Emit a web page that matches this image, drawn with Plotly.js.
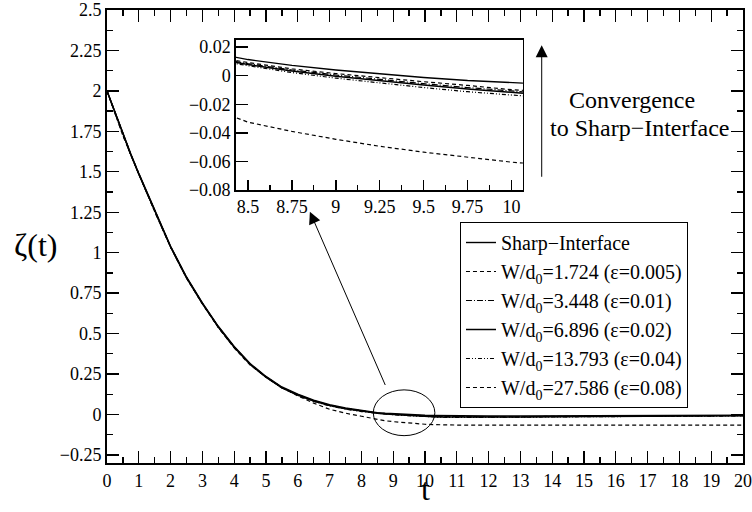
<!DOCTYPE html>
<html><head><meta charset="utf-8">
<script src="https://cdn.plot.ly/plotly-3.0.1.min.js"></script>
<style>html,body{margin:0;padding:0;background:#fff}</style>
</head><body>
<div id="chart" style="width:752px;height:512px"></div>
<script>
// time grid
const t = [0,0.25,0.5,0.75,1,1.5,2,2.5,3,3.5,4,4.5,5,5.5,6,6.5,7,7.5,8,8.25,8.5,8.75,9,9.25,9.5,9.75,10,10.25,10.5,11,12,13,14,15,16,17,18,19,20];
// series values
const sharp  = [2.0,1.87,1.73,1.61,1.49,1.26,1.04,0.85,0.69,0.545,0.42,0.315,0.235,0.17,0.125,0.088,0.06,0.04,0.024,0.017,0.0113,0.0072,0.0040,0.0012,-0.0012,-0.0034,-0.0052,-0.0066,-0.0076,-0.0088,-0.0092,-0.0085,-0.0076,-0.0068,-0.006,-0.0053,-0.0047,-0.0042,-0.0038];
const w1724  = [2.0,1.868,1.728,1.607,1.487,1.257,1.037,0.847,0.687,0.542,0.417,0.312,0.232,0.167,0.122,0.085,0.057,0.037,0.0215,0.0145,0.0092,0.0048,0.0015,-0.0015,-0.0042,-0.0068,-0.0098,-0.0114,-0.0125,-0.0136,-0.014,-0.0132,-0.012,-0.011,-0.0098,-0.0088,-0.008,-0.0073,-0.0068];
const w3448  = [2.0,1.867,1.727,1.606,1.486,1.256,1.036,0.846,0.686,0.541,0.416,0.311,0.231,0.166,0.121,0.084,0.056,0.036,0.0205,0.0138,0.0084,0.004,0.0005,-0.0027,-0.0056,-0.0083,-0.0112,-0.013,-0.0142,-0.0152,-0.0155,-0.0145,-0.0132,-0.012,-0.0108,-0.0097,-0.0088,-0.008,-0.0074];
const w6896  = [2.0,1.866,1.726,1.605,1.485,1.255,1.035,0.845,0.685,0.54,0.415,0.31,0.23,0.165,0.12,0.083,0.055,0.035,0.0198,0.0132,0.0078,0.0033,-0.0003,-0.0036,-0.0065,-0.0093,-0.0121,-0.0139,-0.0151,-0.016,-0.0162,-0.0152,-0.0138,-0.0125,-0.0112,-0.01,-0.009,-0.0082,-0.0076];
const w13793 = [2.0,1.865,1.725,1.604,1.484,1.254,1.034,0.844,0.684,0.539,0.414,0.309,0.229,0.164,0.118,0.081,0.053,0.033,0.018,0.0122,0.007,0.0022,-0.0017,-0.0052,-0.0083,-0.0112,-0.014,-0.0158,-0.0171,-0.018,-0.0182,-0.017,-0.0155,-0.014,-0.0126,-0.0113,-0.0102,-0.0093,-0.0086];
const w27586 = [2.0,1.865,1.725,1.604,1.484,1.254,1.034,0.844,0.683,0.537,0.411,0.305,0.232,0.166,0.115,0.07,0.032,0.008,-0.011,-0.021,-0.0325,-0.039,-0.0445,-0.0494,-0.0535,-0.0572,-0.0605,-0.0628,-0.0643,-0.0655,-0.0663,-0.0665,-0.0665,-0.0665,-0.0663,-0.0662,-0.066,-0.066,-0.066];

const seriesNames = [
  'Sharp\u2212Interface',
  'W/d<sub>0</sub>=1.724 (\u03b5=0.005)',
  'W/d<sub>0</sub>=3.448 (\u03b5=0.01)',
  'W/d<sub>0</sub>=6.896 (\u03b5=0.02)',
  'W/d<sub>0</sub>=13.793 (\u03b5=0.04)',
  'W/d<sub>0</sub>=27.586 (\u03b5=0.08)'
];
const seriesData = [sharp, w1724, w3448, w6896, w13793, w27586];
const dashes = ['solid', '4px,3px', '6px,2px,1px,2px', 'solid', '4px,2px,1px,2px,1px,2px', '4px,3px'];
const widths = [1.4, 1.2, 1.2, 1.5, 1.2, 1.2];

const FONT = 'Liberation Serif, Times New Roman, serif';
const traces = [];
seriesData.forEach((ys, i) => {
  traces.push({x: t, y: ys, type: 'scatter', mode: 'lines', name: seriesNames[i],
    line: {color: '#000', width: widths[i], dash: dashes[i]}, xaxis: 'x', yaxis: 'y', legendrank: i + 1});
});
seriesData.forEach((ys, i) => {
  traces.push({x: t, y: ys, type: 'scatter', mode: 'lines', name: seriesNames[i], showlegend: false,
    line: {color: '#000', width: widths[i], dash: dashes[i]}, xaxis: 'x2', yaxis: 'y2'});
});

const axBase = {showgrid: false, zeroline: false, showline: true, linecolor: '#000', linewidth: 2,
  ticks: 'inside', tickcolor: '#000', tickwidth: 1.3, tickfont: {family: FONT, size: 18, color: '#000'}};

const layout = {
  width: 752, height: 512,
  margin: {l: 107, r: 9, t: 10, b: 49},
  paper_bgcolor: '#fff', plot_bgcolor: '#fff',
  font: {family: FONT, size: 18, color: '#000'},
  showlegend: true,
  legend: {x: 0.555, y: 0.532, xanchor: 'left', yanchor: 'top', bordercolor: '#000', borderwidth: 1,
    bgcolor: '#fff', font: {family: FONT, size: 20, color: '#000'}, tracegroupgap: 0, itemwidth: 30},
  xaxis: Object.assign({}, axBase, {domain: [0, 1], range: [0, 20], tick0: 0, dtick: 1, ticklen: 12,
    minor: {dtick: 0.5, ticks: 'inside', ticklen: 6, tickcolor: '#000', tickwidth: 1.3, showgrid: false},
    mirror: 'ticks', anchor: 'y'}),
  yaxis: Object.assign({}, axBase, {domain: [0, 1], range: [-0.3, 2.5], tick0: 0, dtick: 0.25, ticklen: 12,
    minor: {dtick: 0.125, ticks: 'inside', ticklen: 6, tickcolor: '#000', tickwidth: 1.3, showgrid: false},
    mirror: 'ticks', anchor: 'x'}),
  xaxis2: Object.assign({}, axBase, {domain: [0.2024, 0.654], range: [8.43, 10.065], tick0: 8.5, dtick: 0.25,
    ticklen: 10, linewidth: 1.5,
    minor: {dtick: 0.125, ticks: 'inside', ticklen: 5, tickcolor: '#000', tickwidth: 1.2, showgrid: false},
    mirror: true, anchor: 'y2'}),
  yaxis2: Object.assign({}, axBase, {domain: [0.6026, 0.9338], range: [-0.08, 0.025], tick0: 0, dtick: 0.02,
    ticklen: 12, linewidth: 1.5, mirror: true, anchor: 'x2'}),
  shapes: [
    {type: 'circle', xref: 'x', yref: 'y', x0: 8.374, x1: 10.31, y0: -0.131, y1: 0.152,
      line: {color: '#000', width: 1}}
  ],
  annotations: [
    {xref: 'x', yref: 'y', x: 6.38, y: 1.253, axref: 'x', ayref: 'y', ax: 8.77, ay: 0.173,
      showarrow: true, arrowhead: 2, arrowsize: 2.4, arrowwidth: 1, arrowcolor: '#000', text: ''},
    {xref: 'x', yref: 'y', x: 13.67, y: 2.282, ax: 0, ay: 133,
      showarrow: true, arrowhead: 2, arrowsize: 2.4, arrowwidth: 1, arrowcolor: '#000', text: ''},
    {xref: 'x', yref: 'y', x: 16.5, y: 1.943, text: 'Convergence', showarrow: false,
      font: {family: FONT, size: 24, color: '#000'}, xanchor: 'center', yanchor: 'middle'},
    {xref: 'x', yref: 'y', x: 16.76, y: 1.768, text: 'to Sharp\u2212Interface', showarrow: false,
      font: {family: FONT, size: 24, color: '#000'}, xanchor: 'center', yanchor: 'middle'},
    {xref: 'paper', yref: 'paper', x: -0.113, y: 0.481, text: '\u03b6(t)', showarrow: false,
      font: {family: FONT, size: 32, color: '#000'}, xanchor: 'center', yanchor: 'middle'},
    {xref: 'paper', yref: 'paper', x: 0.5, y: -0.1025, text: 't', showarrow: false,
      font: {family: FONT, size: 32, color: '#000'}, xanchor: 'center', yanchor: 'bottom'}
  ]
};

Plotly.newPlot('chart', traces, layout, {displayModeBar: false, staticPlot: true});
</script>
</body></html>
